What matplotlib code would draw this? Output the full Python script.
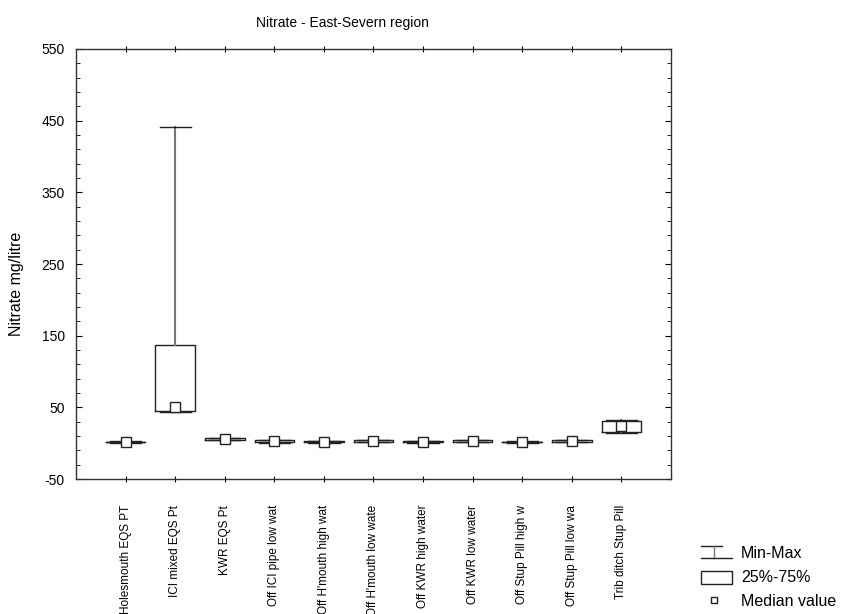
import matplotlib
matplotlib.use("Agg")
import matplotlib.pyplot as plt
from matplotlib.lines import Line2D
from matplotlib.patches import Rectangle

plt.rcParams['font.family'] = ['Liberation Sans', 'DejaVu Sans']
plt.rcParams['axes.unicode_minus'] = False

categories = [
    "Holesmouth EQS PT", "ICI mixed EQS Pt", "KWR EQS Pt",
    "Off ICI pipe low wat", "Off H'mouth high wat", "Off H'mouth low wate",
    "Off KWR high water", "Off KWR low water", "Off Stup Pill high w",
    "Off Stup Pill low wa", "Trib ditch Stup Pill",
]
minimum = [0.5, 43.5, 4.0, 0.5, 0.8, 1.2, 0.6, 1.2, 0.4, 1.2, 15.0]
q25 = [1.6, 45.0, 5.0, 1.5, 1.5, 2.2, 1.4, 2.2, 1.2, 2.2, 16.0]
median = [2.0, 50.0, 6.0, 3.0, 2.0, 3.5, 2.0, 3.5, 1.8, 3.5, 24.0]
q75 = [2.4, 137.0, 6.8, 4.5, 2.6, 4.6, 2.6, 4.6, 2.4, 4.6, 31.0]
maximum = [3.0, 441.0, 7.5, 5.0, 3.2, 5.0, 3.2, 5.0, 3.0, 5.0, 32.0]

y_ticks = [-50, 50, 150, 250, 350, 450, 550]

fig = plt.figure(figsize=(8.45, 6.14), dpi=100)
ax = fig.add_axes([0.090, 0.2196, 0.704, 0.7006])

positions = list(range(1, len(categories) + 1))
stats = [
    dict(whislo=lo, q1=a, med=m, q3=b, whishi=hi, label=c)
    for c, lo, a, m, b, hi in zip(categories, minimum, q25, median, q75, maximum)
]
ax.bxp(stats, positions=positions, widths=0.8, showfliers=False,
       boxprops=dict(color='#222222', linewidth=1.0),
       whiskerprops=dict(color='#777777', linewidth=1.5),
       capprops=dict(color='#222222', linewidth=1.0),
       medianprops=dict(linestyle='none'),
       capwidths=0.63)
ax.plot(positions, median, linestyle='none', marker='s', markersize=6.5,
        markerfacecolor='white', markeredgecolor='#222222', markeredgewidth=1.0,
        zorder=5)

ax.set_xlim(0, len(categories) + 1)
ax.set_ylim(-50, 550)
ax.set_yticks(y_ticks)
ax.set_yticks(range(-50, 551, 20), minor=True)
ax.set_xticks(positions)
ax.set_xticklabels(categories, rotation=90, va='top', ha='center', fontsize=8.5)
ax.tick_params(axis='x', direction='inout', length=5, pad=16, top=True, bottom=True)
ax.tick_params(axis='y', which='major', direction='in', length=4, labelsize=10,
               right=True, left=True, pad=8)
ax.tick_params(axis='y', which='minor', direction='in', length=3,
               right=True, left=True)
for s in ax.spines.values():
    s.set_color('#333333')
    s.set_linewidth(1.0)

ax.set_ylabel("Nitrate mg/litre", fontsize=11.5)
ax.yaxis.set_label_coords(-0.088, 0.453)
fig.text(0.405, 0.962, "Nitrate - East-Severn region", fontsize=10,
         ha='center', va='center')

# legend drawn in figure pixels
def px(x, y):
    return x / 845.0, 1.0 - y / 614.0

def add_line(x0, y0, x1, y1, color='#222222', lw=1.0):
    (a, b), (c, d) = px(x0, y0), px(x1, y1)
    fig.add_artist(Line2D([a, c], [b, d], color=color, linewidth=lw,
                          transform=fig.transFigure))

add_line(701, 546, 722, 546)
add_line(714, 546, 714, 558, color='#777777')
add_line(701, 558, 732, 558)
x0, y0 = px(701, 584)
w, h = 31 / 845.0, 13 / 614.0
fig.add_artist(Rectangle((x0, y0), w, h, transform=fig.transFigure,
                         facecolor='none', edgecolor='#222222', linewidth=1.0))
fx, fy = px(714.5, 600)
fig.add_artist(Line2D([fx], [fy], marker='s', markersize=5, markerfacecolor='white',
                      markeredgecolor='#222222', linestyle='none',
                      transform=fig.transFigure))
for label, yy in [("Min-Max", 553), ("25%-75%", 578), ("Median value", 602)]:
    tx, ty = px(741, yy)
    fig.text(tx, ty, label, fontsize=11.5, ha='left', va='center')

fig.savefig("out.png", dpi=100)
